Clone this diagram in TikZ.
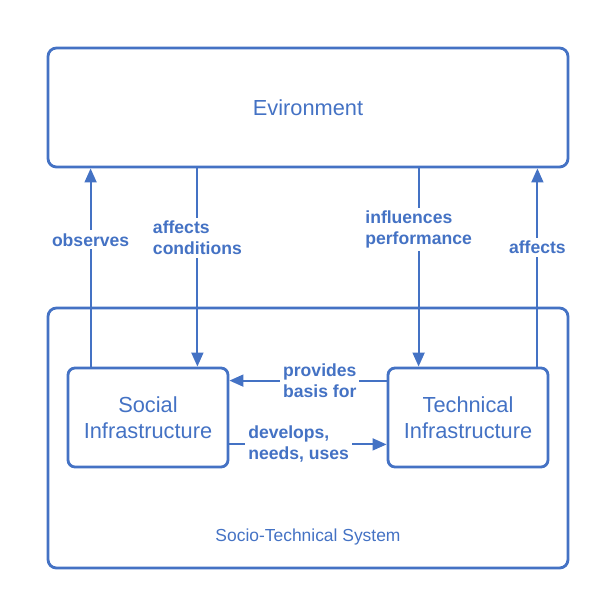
\documentclass[tikz,border=0pt]{standalone}
\usepackage{fontspec}
\setmainfont{Liberation Sans}
\usepackage{xcolor}
\usepackage{tikz}
\usetikzlibrary{arrows.meta,positioning}
\definecolor{stsblue}{HTML}{4472C4}
\tikzset{
  bigbox/.style={rectangle, draw=stsblue, line width=2pt, rounded corners=6pt,
                 minimum width=13cm, text=stsblue,
                 font=\fontsize{15.5}{18.5}\selectfont},
  partbox/.style={rectangle, draw=stsblue, line width=2pt, rounded corners=5pt,
                  minimum width=4cm, minimum height=2.475cm, align=center,
                  text=stsblue, font=\fontsize{15.5}{18.5}\selectfont},
  lbl/.style={fill=white, text=stsblue, align=left, inner sep=2pt,
              font=\bfseries\fontsize{12.5}{15}\selectfont},
  arr/.style={-{Triangle[length=10pt, width=8.5pt]}, line width=1.4pt, draw=stsblue},
}
\begin{document}
\begin{tikzpicture}
  \useasboundingbox (0,0) rectangle (15.4,-15.4);
  % the two outer frames
  \node[bigbox, minimum height=2.975cm] (env) at (7.7,-2.6875) {Evironment};
  \node[bigbox, minimum height=6.5cm, below=3.455cm of env] (sys) {};
  \node[text=stsblue, font=\fontsize{12.4}{15}\selectfont] (systxt) at (7.7,-13.425)
    {Socio-Technical System};
  % the two parts inside
  \node[partbox] (social) at (3.7,-10.4375) {Social\\Infrastructure};
  \node[partbox, right=3.93cm of social] (tech) {Technical\\Infrastructure};
  % arrow ends
  \coordinate (obs) at ([xshift=0.6cm]social.north west);
  \coordinate (cond) at ([xshift=-0.8cm]social.north east);
  \coordinate (perf) at ([xshift=0.8cm]tech.north west);
  \coordinate (aff) at ([xshift=-0.3cm]tech.north east);
  \coordinate (basis) at ([yshift=-0.35cm]tech.north west);
  \coordinate (uses) at ([yshift=0.6cm]social.south east);
  \draw[arr] (obs) -- node[lbl, pos=0.64] {observes} (obs |- env.south);
  \draw[arr] (env.south -| cond) -- node[lbl, pos=0.35] {affects\\conditions} (cond);
  \draw[arr] (env.south -| perf) -- node[lbl, pos=0.31] {influences\\performance} (perf);
  \draw[arr] (aff) -- node[lbl, pos=0.6] {affects} (aff |- env.south);
  \draw[arr] (basis) -- node[lbl, pos=0.425] {provides\\basis for} (basis -| social.east);
  \draw[arr] (uses) -- node[lbl, pos=0.44] {develops,\\needs, uses} (uses -| tech.west);
\end{tikzpicture}
\end{document}
